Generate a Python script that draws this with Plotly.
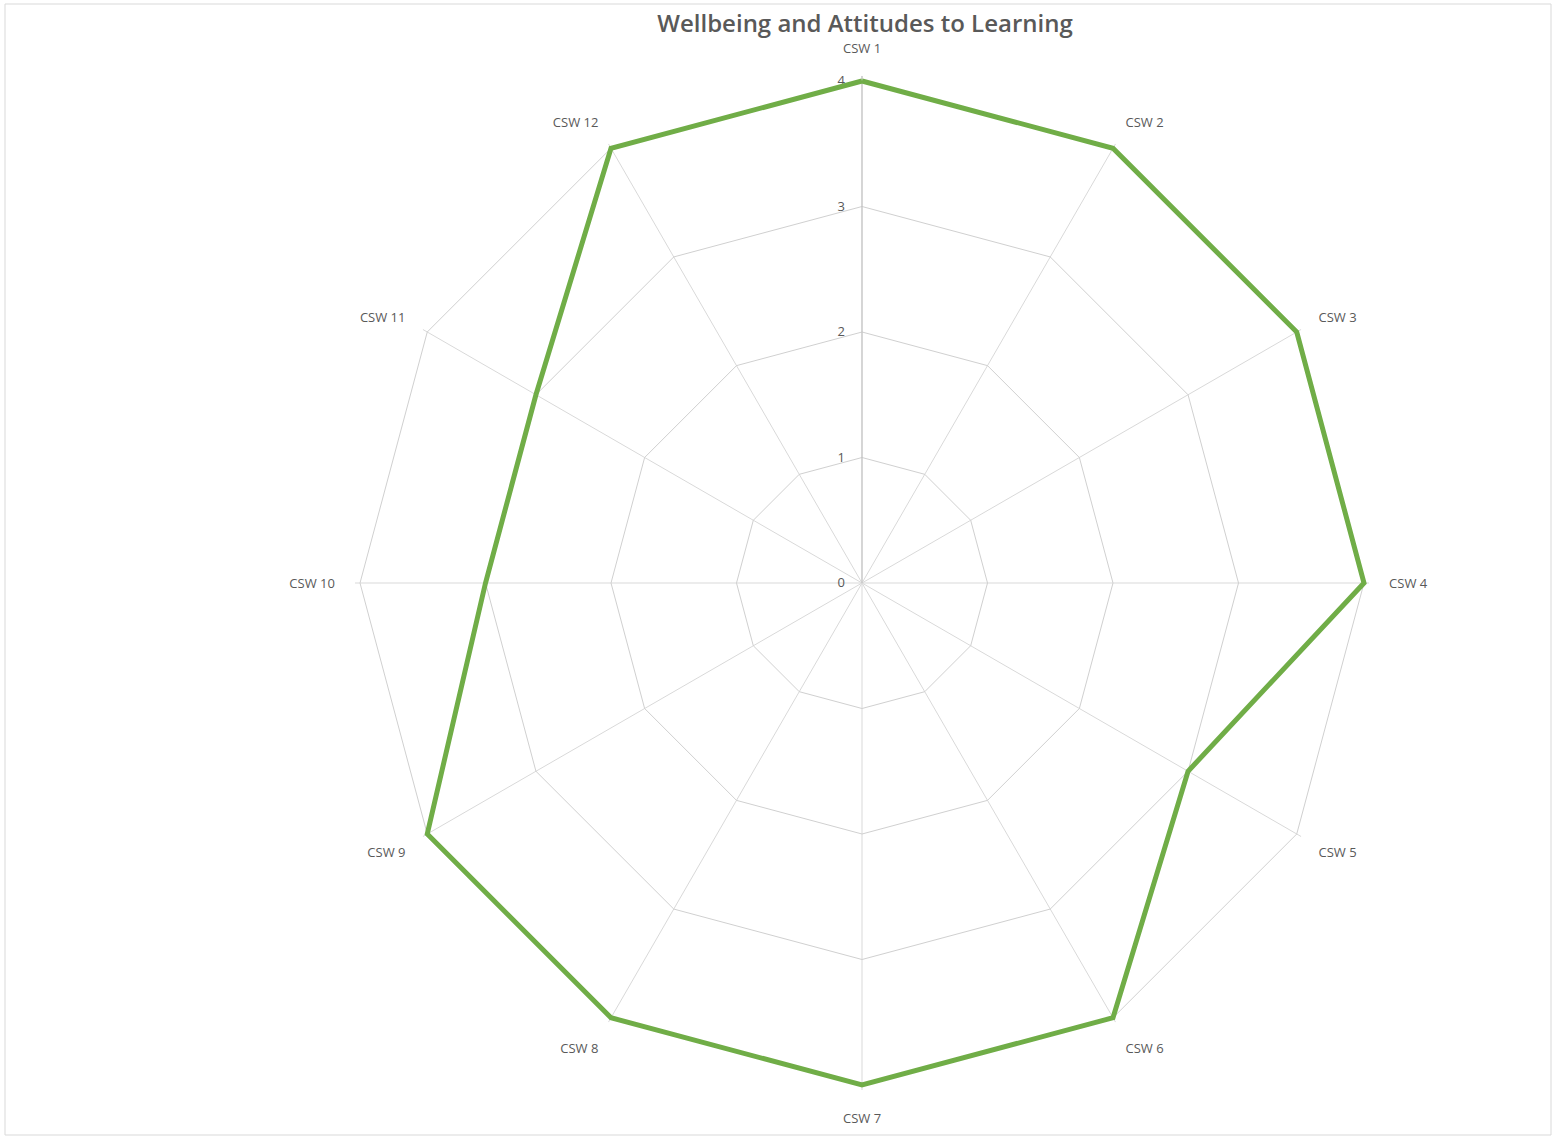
import plotly.graph_objects as go

categories = ["CSW 1", "CSW 2", "CSW 3", "CSW 4", "CSW 5", "CSW 6",
              "CSW 7", "CSW 8", "CSW 9", "CSW 10", "CSW 11", "CSW 12"]
values = [4, 4, 4, 4, 3, 4, 4, 4, 4, 3, 3, 4]
radial_ticks = [0, 1, 2, 3, 4]

W, H = 1556, 1137
cx, cy, R = 862, 583, 502
rmax = 4.04               # small headroom so the thick line isn't clipped at the edge
Rd = R * rmax / 4         # domain radius so that value 4 lands at R

fig = go.Figure()
fig.add_trace(go.Scatterpolar(
    r=values + values[:1],
    theta=categories + categories[:1],
    mode="lines",
    line=dict(color="#70AD47", width=5),
    cliponaxis=False,
    showlegend=False,
    hoverinfo="skip",
))

fig.update_layout(
    width=W, height=H,
    margin=dict(l=0, r=0, t=0, b=0),
    paper_bgcolor="white",
    plot_bgcolor="white",
    font=dict(family="Open Sans, sans-serif", color="#595959", size=13),
    title=dict(
        text="Wellbeing and Attitudes to Learning",
        x=(cx + 3) / W, xanchor="center",
        y=1 - 24 / H, yanchor="middle",
        font=dict(family="Open Sans, sans-serif", size=24, color="#595959", weight=600),
    ),
    polar=dict(
        domain=dict(x=[(cx - Rd) / W, (cx + Rd) / W], y=[1 - (cy + Rd) / H, 1 - (cy - Rd) / H]),
        bgcolor="white",
        gridshape="linear",
        angularaxis=dict(
            direction="clockwise",
            rotation=90,
            showline=False,
            gridcolor="#d9d9d9",
            gridwidth=1,
            ticks="outside",
            ticklen=17,
            tickcolor="rgba(0,0,0,0)",
            tickfont=dict(size=13, color="#595959"),
            layer="below traces",
        ),
        radialaxis=dict(
            range=[0, rmax],
            tickvals=radial_ticks,
            ticktext=[str(v) for v in radial_ticks],
            angle=90,
            tickangle=90,
            side="counterclockwise",
            showline=True,
            linecolor="#bfbfbf",
            linewidth=1,
            gridcolor="#d0d0d0",
            gridwidth=1,
            ticks="outside",
            ticklen=12,
            tickcolor="rgba(0,0,0,0)",
            tickfont=dict(size=13, color="#595959"),
            layer="below traces",
        ),
    ),
    shapes=[dict(
        type="rect", xref="paper", yref="paper",
        x0=5 / W, x1=1551 / W, y0=1 - 1135 / H, y1=1 - 4 / H,
        line=dict(color="#d9d9d9", width=1), fillcolor="rgba(0,0,0,0)", layer="below",
    )],
)

fig.write_html("out.html")
